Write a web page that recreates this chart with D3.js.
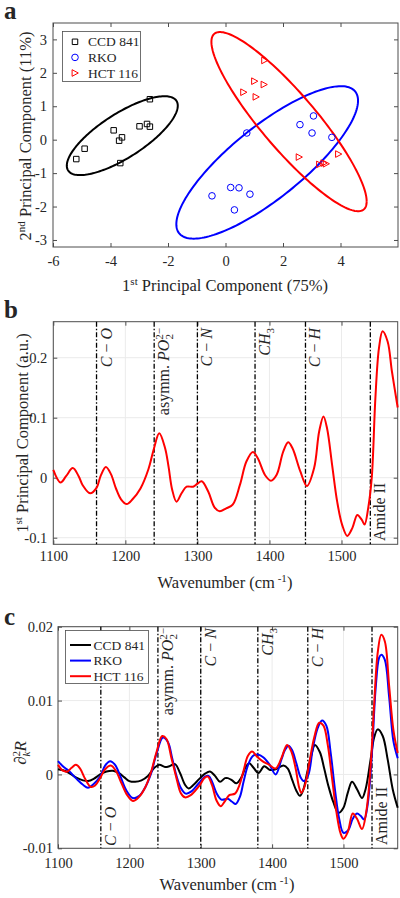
<!DOCTYPE html>
<html><head><meta charset="utf-8">
<script src="https://cdn.jsdelivr.net/npm/d3@7"></script>
<style>
body{margin:0;background:#fff}
svg{display:block}
text{font-family:"Liberation Serif","Times New Roman",serif;fill:#262626}
</style>
</head><body>
<svg id="chart" width="400" height="898"></svg>
<script>
// ---------------- DATA ----------------
// Panel a: PCA scores [PC1, PC2]
const ccdScores = [[-5.19,-0.58],[-4.90,-0.27],[-3.89,0.28],[-3.70,-0.03],[-3.60,0.07],[-3.66,-0.70],[-2.99,0.40],[-2.73,0.47],[-2.63,0.39],[-2.63,1.21]];
const rkoScores = [[-0.47,-1.68],[0.18,-1.43],[0.47,-1.44],[0.85,-1.63],[0.31,-2.10],[0.74,0.20],[2.59,0.45],[3.06,0.71],[3.01,0.20],[3.70,0.07]];
const hctScores = [[1.36,2.37],[1.01,1.75],[1.34,1.65],[0.63,1.42],[1.06,1.28],[2.56,-0.52],[3.27,-0.74],[3.42,-0.70],[3.50,-0.72],[3.93,-0.43]];
// confidence ellipses: [centerX, centerY, halfExtentX, halfExtentY, correlation]
const ccdEllipse = [-3.59, 0.12, 1.93, 1.18, 0.76];
const rkoEllipse = [1.45, -0.68, 3.16, 2.28, 0.81];
const hctEllipse = [2.21, 0.54, 2.70, 2.68, -0.89];
const groupNames = ["CCD 841", "RKO", "HCT 116"];
const groupColors = ["#000000", "#0000ff", "#ff0000"];
const pcaXTicks = [-6,-4,-2,0,2,4];
const pcaYTicks = [-3,-2,-1,0,1,2,3];

// Panel b: 1st principal component loading
const pc1Wn  = [1100,1110,1118,1127,1135,1141,1151,1160,1166,1173,1180,1187,1194,1202,1210,1221,1232,1240,1247,1255,1260,1265,1271,1278,1285,1294,1300,1306,1315,1324,1331,1340,1349,1359,1368,1377,1384,1394,1402,1410,1419,1426,1432,1443,1452,1462,1469,1475,1480,1487,1494,1501,1508,1515,1522,1528,1532,1537,1542,1547,1552,1557,1564,1570,1578];
const pc1Val = [0.013,-0.008,0.003,0.016,0.003,-0.013,-0.026,-0.017,0.004,0.018,0.006,-0.018,-0.036,-0.044,-0.036,-0.018,0.014,0.050,0.074,0.050,0.018,-0.020,-0.040,-0.026,-0.015,-0.015,-0.010,-0.006,-0.023,-0.050,-0.056,-0.051,-0.045,-0.012,0.027,0.043,0.032,0.004,-0.005,0.005,0.043,0.059,0.049,0.010,-0.014,0.016,0.077,0.102,0.082,0.021,-0.040,-0.079,-0.097,-0.084,-0.062,-0.070,-0.078,-0.051,0.000,0.132,0.216,0.244,0.227,0.177,0.117];

// Panel c: second derivative spectra
const ccdWn  = [1100,1112,1125,1135,1142,1150,1159,1168,1177,1185,1193,1200,1208,1217,1226,1235,1242,1250,1256,1264,1271,1278,1283,1290,1298,1306,1313,1320,1327,1334,1338,1344,1350,1357,1363,1368,1374,1381,1389,1397,1405,1416,1422,1428,1434,1439,1444,1449,1455,1460,1467,1473,1479,1486,1493,1500,1506,1512,1519,1526,1531,1538,1543,1548,1555,1562,1569,1576];
const ccdVal = [0.0007,0.0004,-0.0004,-0.0008,-0.0009,-0.0006,0.0000,0.0004,0.0005,0.0002,-0.0004,-0.0009,-0.0010,-0.0008,-0.0002,0.0009,0.0013,0.0010,0.0011,0.0014,0.0002,-0.0014,-0.0019,-0.0014,-0.0006,0.0001,0.0004,-0.0002,-0.0010,-0.0005,-0.0005,-0.0008,-0.0012,-0.0004,0.0010,0.0015,0.0009,0.0002,0.0011,0.0006,0.0007,0.0012,0.0008,-0.0007,-0.0022,-0.0029,-0.0020,0.0002,0.0026,0.0040,0.0030,0.0008,-0.0016,-0.0038,-0.0052,-0.0045,-0.0025,-0.0010,-0.0020,-0.0032,-0.0020,0.0020,0.0050,0.0061,0.0052,0.0020,-0.0020,-0.0045];
const rkoWn  = [1100,1108,1115,1126,1135,1142,1150,1159,1166,1173,1180,1188,1196,1205,1214,1222,1230,1238,1247,1254,1260,1266,1272,1279,1287,1299,1306,1311,1316,1322,1329,1338,1344,1349,1355,1360,1366,1373,1380,1388,1396,1405,1413,1418,1423,1428,1434,1440,1445,1451,1457,1464,1470,1476,1482,1488,1494,1500,1507,1513,1519,1524,1529,1534,1540,1545,1550,1553,1558,1564,1570,1576];
const rkoVal = [0.0018,0.0010,0.0005,-0.0006,-0.0014,-0.0018,-0.0013,-0.0003,0.0012,0.0018,0.0013,-0.0004,-0.0022,-0.0032,-0.0029,-0.0018,0.0000,0.0028,0.0050,0.0044,0.0022,-0.0002,-0.0018,-0.0026,-0.0023,-0.0010,-0.0003,-0.0002,-0.0010,-0.0025,-0.0034,-0.0033,-0.0037,-0.0040,-0.0030,-0.0010,0.0012,0.0025,0.0027,0.0023,0.0014,0.0000,0.0020,0.0033,0.0039,0.0033,0.0015,-0.0004,-0.0009,0.0000,0.0035,0.0063,0.0073,0.0066,0.0030,-0.0020,-0.0060,-0.0079,-0.0075,-0.0060,-0.0053,-0.0056,-0.0061,-0.0040,0.0030,0.0115,0.0158,0.0162,0.0155,0.0105,0.0045,0.0022];
const hctWn  = [1100,1107,1113,1119,1125,1131,1138,1146,1152,1159,1166,1174,1181,1189,1197,1205,1213,1222,1230,1238,1246,1252,1259,1266,1272,1278,1286,1299,1305,1310,1316,1322,1328,1334,1340,1348,1354,1360,1366,1372,1379,1388,1396,1405,1413,1421,1427,1433,1438,1441,1446,1452,1459,1466,1472,1478,1484,1490,1496,1500,1506,1513,1519,1526,1532,1538,1543,1548,1553,1558,1564,1570,1576];
const hctVal = [0.0013,0.0005,0.0004,0.0009,0.0013,0.0008,-0.0006,-0.0017,-0.0015,-0.0005,0.0007,0.0012,0.0005,-0.0012,-0.0028,-0.0036,-0.0031,-0.0018,0.0002,0.0030,0.0052,0.0048,0.0022,-0.0005,-0.0025,-0.0031,-0.0028,-0.0014,-0.0005,-0.0003,-0.0015,-0.0035,-0.0043,-0.0036,-0.0028,-0.0026,-0.0015,0.0005,0.0025,0.0031,0.0024,0.0017,0.0013,0.0008,0.0022,0.0040,0.0031,0.0008,-0.0018,-0.0025,-0.0015,0.0015,0.0050,0.0070,0.0066,0.0040,-0.0005,-0.0050,-0.0080,-0.0087,-0.0078,-0.0053,-0.0060,-0.0074,-0.0050,0.0010,0.0095,0.0165,0.0189,0.0180,0.0120,0.0060,0.0029];

const bandWn = [1160, 1240, 1300, 1380, 1450, 1540];
const wnTicks = [1100,1200,1300,1400,1500];
const pc1Ticks = [-0.1,0,0.1,0.2];
const d2Ticks = [-0.01,0,0.01,0.02];

// ---------------- DRAW ----------------
const svg = d3.select("#chart");
const fmt = d => String(d);
const AX = "#4d4d4d";

function frame(g, x, y, xt, yt, grid, xPad, yPad) {
  const [x0, x1] = x.range(), [yb, yt0] = y.range();
  if (grid) {
    g.append("g").selectAll("line").data(xt).join("line")
      .attr("x1", d => x(d)).attr("x2", d => x(d)).attr("y1", yt0).attr("y2", yb)
      .attr("stroke", "#ebebeb").attr("stroke-width", 1);
    g.append("g").selectAll("line").data(yt).join("line")
      .attr("x1", x0).attr("x2", x1).attr("y1", d => y(d)).attr("y2", d => y(d))
      .attr("stroke", "#ebebeb").attr("stroke-width", 1);
  }
  const styleAxis = s => { s.select(".domain").remove(); s.selectAll("line").attr("stroke", AX);
    s.selectAll("text").attr("font-family", '"Liberation Serif",serif').attr("font-size", 14.5).attr("fill", "#262626"); };
  g.append("g").attr("transform", `translate(0,${yb})`)
    .call(d3.axisBottom(x).tickValues(xt).tickSize(-4).tickPadding(xPad).tickFormat(fmt)).call(styleAxis);
  g.append("g").attr("transform", `translate(0,${yt0})`)
    .call(d3.axisTop(x).tickValues(xt).tickSize(-4).tickFormat("")).call(styleAxis);
  g.append("g").attr("transform", `translate(${x0},0)`)
    .call(d3.axisLeft(y).tickValues(yt).tickSize(-4).tickPadding(yPad).tickFormat(fmt)).call(styleAxis);
  g.append("g").attr("transform", `translate(${x1},0)`)
    .call(d3.axisRight(y).tickValues(yt).tickSize(-4).tickFormat("")).call(styleAxis);
  g.append("rect").attr("x", x0).attr("y", yt0).attr("width", x1 - x0).attr("height", yb - yt0)
    .attr("fill", "none").attr("stroke", AX).attr("stroke-width", 1);
}

function panelLetter(t, x, y) {
  svg.append("text").attr("x", x).attr("y", y).text(t)
    .attr("font-family", '"Liberation Sans",Arial,sans-serif').attr("font-weight", "bold")
    .attr("font-size", 25).attr("fill", "#000");
}

// ===== Panel a =====
{
  const x = d3.scaleLinear().domain([-6, 6]).range([53, 398]);
  const y = d3.scaleLinear().domain([-3.21, 3.49]).range([247, 23]);
  const g = svg.append("g");
  frame(g, x, y, pcaXTicks, pcaYTicks, false, 9, 6);
  const ellipses = [ccdEllipse, rkoEllipse, hctEllipse];
  const ts = d3.range(0, 2 * Math.PI + 0.001, Math.PI / 90);
  const line = d3.line().x(d => x(d[0])).y(d => y(d[1]));
  ellipses.forEach((e, i) => {
    const [cx, cy, hx, hy, r] = e;
    const pts = ts.map(t => [cx + hx * Math.cos(t), cy + hy * (r * Math.cos(t) + Math.sqrt(1 - r * r) * Math.sin(t))]);
    g.append("path").attr("d", line(pts)).attr("fill", "none").attr("stroke", groupColors[i]).attr("stroke-width", 2);
  });
  const sq = d3.symbol().type(d3.symbolSquare).size(30)();
  const tri = "M-2.9,-3.3L3.3,0L-2.9,3.3Z";
  const markerPath = [sq, null, tri];
  function drawMarker(sel, i) {
    if (i === 1) sel.append("circle").attr("r", 3.3).attr("fill", "none").attr("stroke", groupColors[i]).attr("stroke-width", 1);
    else sel.append("path").attr("d", markerPath[i]).attr("fill", "none").attr("stroke", groupColors[i]).attr("stroke-width", 1);
  }
  [ccdScores, rkoScores, hctScores].forEach((arr, i) => {
    arr.forEach(p => drawMarker(g.append("g").attr("transform", `translate(${x(p[0])},${y(p[1])})`), i));
  });
  // legend
  const lg = g.append("g");
  lg.append("rect").attr("x", 62.5).attr("y", 31.5).attr("width", 78).attr("height", 50)
    .attr("fill", "#fff").attr("stroke", AX).attr("stroke-width", 0.8);
  groupNames.forEach((n, i) => {
    const yy = 41.8 + i * 15.6;
    drawMarker(lg.append("g").attr("transform", `translate(75,${yy})`), i);
    lg.append("text").attr("x", 88).attr("y", yy + 4.5).attr("font-size", 13.5).text(n);
  });
  // axis titles
  const xt = g.append("text").attr("x", 225).attr("y", 291).attr("text-anchor", "middle").attr("font-size", 16.5);
  xt.append("tspan").text("1");
  xt.append("tspan").attr("dy", -6).attr("font-size", 11).text("st");
  xt.append("tspan").attr("dy", 6).text(" Principal Component (75%)");
  const yl = g.append("text").attr("transform", "translate(31,136) rotate(-90)").attr("text-anchor", "middle").attr("font-size", 16.5);
  yl.append("tspan").text("2");
  yl.append("tspan").attr("dy", -6).attr("font-size", 11).text("nd");
  yl.append("tspan").attr("dy", 6).text(" Principal Component (11%)");
  panelLetter("a", 4, 19);
}

// band labels helper
function bandLabels(g, x, y, topY, botY, amideY, cO_bottom) {
  g.append("g").selectAll("line").data(bandWn).join("line")
    .attr("x1", d => x(d)).attr("x2", d => x(d)).attr("y1", y.range()[1]).attr("y2", y.range()[0])
    .attr("stroke", "#000").attr("stroke-width", 1.3).attr("stroke-dasharray", "5,2,1.5,2");
  const off = 15;
  const mk = (wn, anchorY, anchor) => g.append("text")
    .attr("transform", `translate(${x(wn) + off},${anchorY}) rotate(-90)`)
    .attr("text-anchor", anchor).attr("font-size", 16);
  const it = (t, s) => t.append("tspan").attr("font-style", "italic").text(s);
  // C - O
  let t = cO_bottom ? mk(bandWn[0], botY, "start") : mk(bandWn[0], topY, "end");
  it(t, "C"); t.append("tspan").text(" − "); it(t, "O");
  // asymm PO2 2-
  t = mk(bandWn[1], topY, "end");
  t.append("tspan").text("asymm.  ");
  it(t, "PO");
  t.append("tspan").attr("font-size", 11).attr("dy", 4).text("2");
  t.append("tspan").attr("font-size", 11).attr("dx", -5.6).attr("dy", -10).text("2−");
  t.append("tspan").attr("dy", 6).text("");
  // C - N
  t = mk(bandWn[2], topY, "end");
  it(t, "C"); t.append("tspan").text(" − "); it(t, "N");
  // CH3
  t = mk(bandWn[3], topY, "end");
  it(t, "CH"); t.append("tspan").attr("font-size", 11).attr("dy", 4).text("3");
  // C - H
  t = mk(bandWn[4], topY, "end");
  it(t, "C"); t.append("tspan").text(" − "); it(t, "H");
  // Amide II
  t = mk(bandWn[5], amideY, "start");
  t.text("Amide II");
}

// ===== Panel b =====
{
  const x = d3.scaleLinear().domain([1100, 1578]).range([53.3, 397.7]);
  const y = d3.scaleLinear().domain([-0.111, 0.26]).range([544.3, 321.7]);
  const g = svg.append("g");
  frame(g, x, y, wnTicks, pc1Ticks, true, 6.5, 6);
  bandLabels(g, x, y, 328, 0, 541, false);
  const data = pc1Wn.map((w, i) => [w, pc1Val[i]]);
  g.append("path").attr("d", d3.line().curve(d3.curveCatmullRom.alpha(0.5)).x(d => x(d[0])).y(d => y(d[1]))(data))
    .attr("fill", "none").attr("stroke", "#ff0000").attr("stroke-width", 2);
  const xt = g.append("text").attr("x", 225).attr("y", 588).attr("text-anchor", "middle").attr("font-size", 16.5);
  xt.append("tspan").text("Wavenumber (cm");
  xt.append("tspan").attr("dy", -6).attr("font-size", 11).text(" -1");
  xt.append("tspan").attr("dy", 6).text(")");
  const yl = g.append("text").attr("transform", "translate(28,433) rotate(-90)").attr("text-anchor", "middle").attr("font-size", 16.5);
  yl.append("tspan").text("1");
  yl.append("tspan").attr("dy", -6).attr("font-size", 11).text("st");
  yl.append("tspan").attr("dy", 6).text(" Principal Component (a.u.)");
  panelLetter("b", 4, 318);
}

// ===== Panel c =====
{
  const x = d3.scaleLinear().domain([1100, 1576]).range([58, 397.7]);
  const y = d3.scaleLinear().domain([-0.01, 0.02]).range([848.3, 626.7]);
  const g = svg.append("g");
  frame(g, x, y, wnTicks, d2Ticks, true, 9, 5);
  bandLabels(g, x, y, 628, 846, 845, true);
  const series = [[ccdWn, ccdVal], [rkoWn, rkoVal], [hctWn, hctVal]];
  const ln = d3.line().curve(d3.curveCatmullRom.alpha(0.5)).x(d => x(d[0])).y(d => y(d[1]));
  series.forEach((s, i) => {
    const data = s[0].map((w, j) => [w, s[1][j]]);
    g.append("path").attr("d", ln(data)).attr("fill", "none").attr("stroke", groupColors[i]).attr("stroke-width", 2);
  });
  const lg = g.append("g");
  lg.append("rect").attr("x", 65.5).attr("y", 630.5).attr("width", 83).attr("height", 53)
    .attr("fill", "#fff").attr("stroke", AX).attr("stroke-width", 0.8);
  groupNames.forEach((n, i) => {
    const yy = 645 + i * 15.6;
    lg.append("line").attr("x1", 70).attr("x2", 91).attr("y1", yy).attr("y2", yy).attr("stroke", groupColors[i]).attr("stroke-width", 2);
    lg.append("text").attr("x", 93.5).attr("y", yy + 4.5).attr("font-size", 13.5).text(n);
  });
  const xt = g.append("text").attr("x", 227).attr("y", 890).attr("text-anchor", "middle").attr("font-size", 16.5);
  xt.append("tspan").text("Wavenumber (cm");
  xt.append("tspan").attr("dy", -6).attr("font-size", 11).text(" -1");
  xt.append("tspan").attr("dy", 6).text(")");
  const yl = g.append("text").attr("transform", "translate(26,753) rotate(-90)").attr("text-anchor", "middle").attr("font-size", 17);
  yl.append("tspan").text("∂");
  yl.append("tspan").attr("dy", -6).attr("font-size", 11).text("2");
  yl.append("tspan").attr("dy", 10).attr("dx", -5.5).attr("font-size", 11).attr("font-style", "italic").text("k");
  yl.append("tspan").attr("dy", -4).attr("font-style", "italic").text("R");
  panelLetter("c", 4, 625);
}
</script>
</body></html>
